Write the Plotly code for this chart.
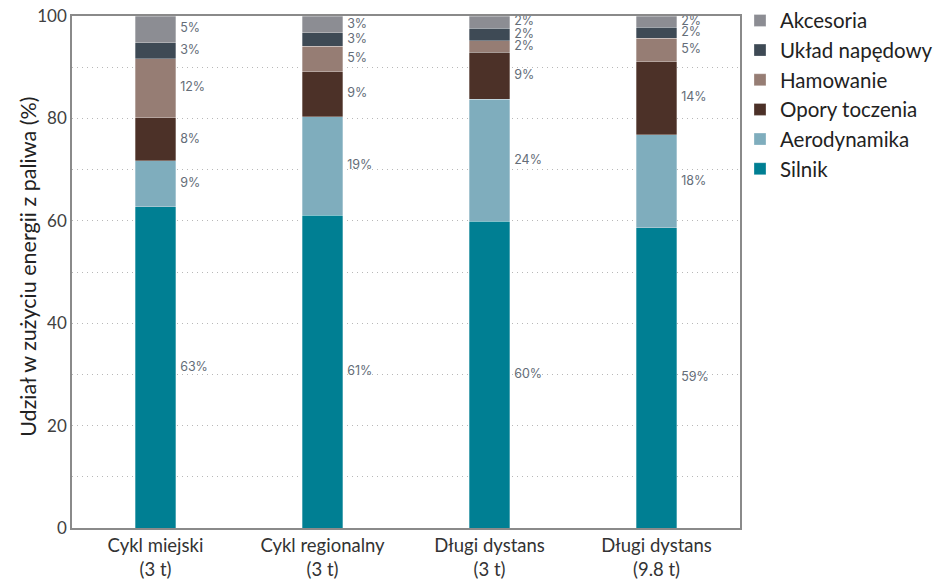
import plotly.graph_objects as go

# Share of fuel energy use per driving cycle (percent)
categories = ["Cykl miejski<br>(3 t)", "Cykl regionalny<br>(3 t)",
              "Długi dystans<br>(3 t)", "Długi dystans<br>(9.8 t)"]
series_names = ["Silnik", "Aerodynamika", "Opory toczenia",
                "Hamowanie", "Układ napędowy", "Akcesoria"]
silnik = [62.7, 61.1, 59.9, 58.6]
aerodynamika = [9.0, 19.2, 23.8, 18.2]
opory_toczenia = [8.4, 8.8, 9.2, 14.3]
hamowanie = [11.6, 5.0, 2.3, 4.6]
uklad_napedowy = [3.1, 2.6, 2.4, 2.1]
akcesoria = [5.2, 3.3, 2.4, 2.2]
y_ticks = [0, 20, 40, 60, 80, 100]
y_title = "Udział w zużyciu energii z paliwa (%)"

series_values = [silnik, aerodynamika, opory_toczenia,
                 hamowanie, uklad_napedowy, akcesoria]
colors = ["#007f93", "#7fadbd", "#4c3128", "#967d74", "#3e4a55", "#8c8d93"]

x_pos = list(range(len(categories)))
bar_width = 0.245

fig = go.Figure()

for name, vals, col in zip(series_names, series_values, colors):
    fig.add_trace(go.Bar(
        x=x_pos, y=vals, name=name, width=bar_width,
        marker=dict(color=col, line=dict(color="rgba(255,255,255,0.6)", width=0.5)),
    ))

# value labels beside each segment, centred vertically on it
lab_x, lab_y, lab_t = [], [], []
for i in x_pos:
    base = 0.0
    for vals in series_values:
        v = vals[i]
        lab_x.append(i + bar_width / 2 + 0.025)
        lab_y.append(base + v / 2)
        lab_t.append(f"{round(v)}%")
        base += v

fig.add_trace(go.Scatter(
    x=lab_x, y=lab_y, text=lab_t, mode="text", textposition="middle right",
    textfont=dict(family="Inter", size=12.5, color="#646d78"),
    showlegend=False, hoverinfo="skip", cliponaxis=False,
))

fig.update_layout(
    barmode="stack",
    width=945, height=582,
    margin=dict(l=72, r=205, t=16, b=54, autoexpand=False),
    plot_bgcolor="white", paper_bgcolor="white",
    font=dict(family="Lato", color="#404040"),
    legend=dict(
        traceorder="reversed", x=1.0, xanchor="left", y=1.03, yanchor="top",
        font=dict(family="Lato", size=20.5, color="#222222"),
        itemwidth=30, tracegroupgap=0, bgcolor="rgba(0,0,0,0)",
    ),
    showlegend=True,
    annotations=[dict(
        text=y_title, textangle=-90, xref="paper", yref="paper",
        x=-0.066, y=0.51, xanchor="center", yanchor="middle", showarrow=False,
        font=dict(family="Lato", size=21.5, color="#222222"),
    )],
)

grid_dash = "1px,4px"

fig.update_xaxes(
    range=[-0.5, 3.5], tickvals=x_pos, ticktext=categories,
    tickfont=dict(family="Lato", size=18.5, color="#333333"),
    showline=True, linecolor="#8a8a8a", linewidth=1.5, mirror=True,
    showgrid=False, zeroline=False, ticks="", automargin=False,
)

fig.update_yaxes(
    range=[0, 100], tickvals=y_ticks,
    tickfont=dict(family="Lato", size=17, color="#404040"),
    showline=True, linecolor="#8a8a8a", linewidth=1.5, mirror=True,
    showgrid=True, gridcolor="#b8b8b8", griddash=grid_dash, gridwidth=1,
    minor=dict(dtick=10, showgrid=True, gridcolor="#b8b8b8",
               griddash=grid_dash, gridwidth=1),
    zeroline=False, ticks="", automargin=False,
)

fig.write_html("out.html")
